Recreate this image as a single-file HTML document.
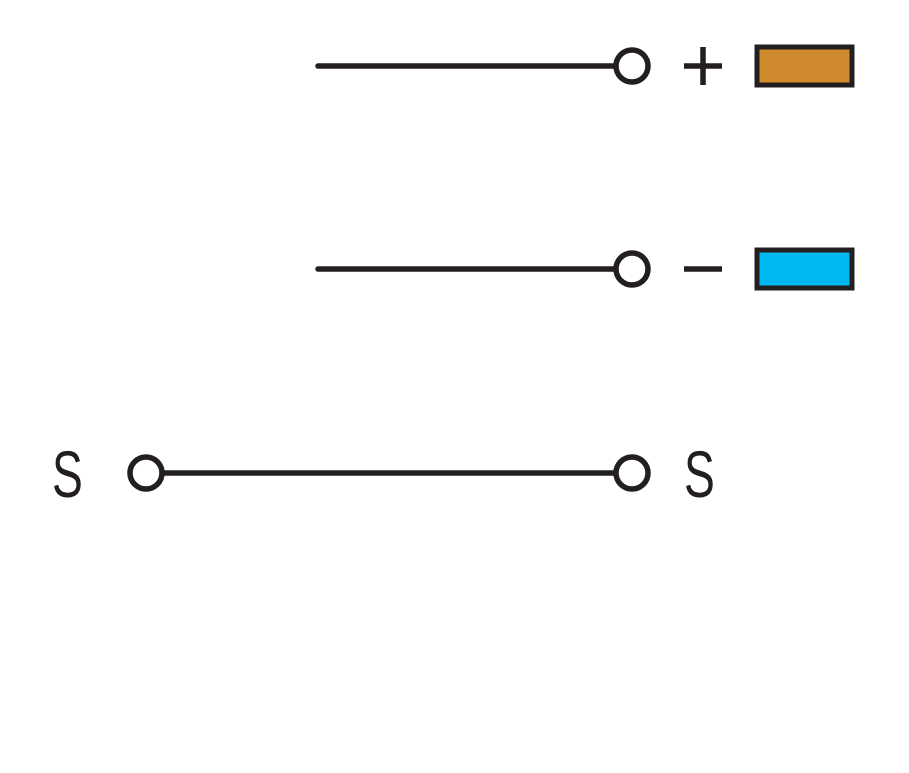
<!DOCTYPE html>
<html><head><meta charset="utf-8"><style>html,body{margin:0;padding:0;background:#fff}</style></head>
<body>
<svg width="909" height="768" viewBox="0 0 909 768" xmlns="http://www.w3.org/2000/svg">
<g stroke="#231f20" stroke-width="5.5" stroke-linecap="round" fill="none">
<line x1="318" y1="66" x2="616" y2="66"/>
<line x1="318" y1="269" x2="616" y2="269"/>
<line x1="162" y1="473" x2="616" y2="473"/>
<circle cx="632" cy="66" r="16" fill="#fff"/>
<circle cx="632" cy="269" r="16" fill="#fff"/>
<circle cx="632" cy="473" r="16" fill="#fff"/>
<circle cx="146" cy="473" r="16" fill="#fff"/>
<line x1="684" y1="66" x2="722" y2="66" stroke-linecap="butt"/>
<line x1="703" y1="47" x2="703" y2="85" stroke-linecap="butt"/>
<line x1="684" y1="269" x2="722" y2="269" stroke-linecap="butt"/>
</g>
<rect x="757" y="47" width="95" height="38" fill="#d08a2e" stroke="#231f20" stroke-width="5"/>
<rect x="757" y="250" width="95" height="38" fill="#00b8f0" stroke="#231f20" stroke-width="5"/>
<g font-family="Liberation Sans, sans-serif" font-size="66" fill="#231f20">
<text transform="translate(52,497) scale(0.7,1)">S</text>
<text transform="translate(684,497) scale(0.7,1)">S</text>
</g>
</svg>
</body></html>
